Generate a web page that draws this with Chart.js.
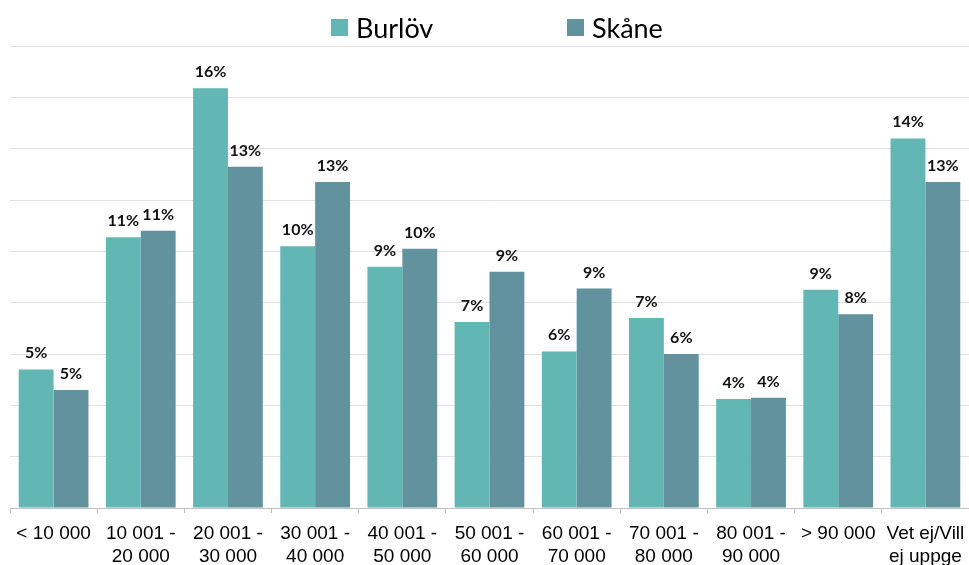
<!DOCTYPE html>
<html>
<head>
<meta charset="utf-8">
<script src="https://cdn.jsdelivr.net/npm/chart.js@4"></script>
<style>
  body { margin: 0; background: #fff; }
  #wrap { width: 969px; height: 565px; }
</style>
</head>
<body>
<div id="wrap"><canvas id="income-chart"></canvas></div>
<script>
const categories = [
  ["< 10 000"],
  ["10 001 -", "20 000"],
  ["20 001 -", "30 000"],
  ["30 001 -", "40 000"],
  ["40 001 -", "50 000"],
  ["50 001 -", "60 000"],
  ["60 001 -", "70 000"],
  ["70 001 -", "80 000"],
  ["80 001 -", "90 000"],
  ["> 90 000"],
  ["Vet ej/Vill", "ej uppge"],
];
const seriesNames = ["Burlöv", "Skåne"];
const burlovValues = [5.4, 10.55, 16.35, 10.2, 9.4, 7.25, 6.1, 7.4, 4.25, 8.5, 14.4];
const skaneValues = [4.6, 10.8, 13.3, 12.7, 10.1, 9.2, 8.55, 6.0, 4.3, 7.55, 12.7];
const yMax = 18;
const yStep = 2;

const burlovColor = "#62b6b4";
const skaneColor = "#61929d";

// Legend drawn at the top, spread out like the original
const topLegend = {
  id: "topLegend",
  afterDraw(chart) {
    const ctx = chart.ctx;
    const spots = [331, 567];
    ctx.save();
    ctx.font = "27px Lato";
    ctx.textBaseline = "alphabetic";
    ctx.textAlign = "left";
    chart.data.datasets.forEach((ds, i) => {
      const x = spots[i];
      ctx.fillStyle = ds.backgroundColor;
      ctx.fillRect(x, 19, 17, 17);
      ctx.fillStyle = "#000";
      ctx.fillText(ds.label, x + 25, 38);
    });
    ctx.restore();
  },
};

// Percent labels above bars
const barLabels = {
  id: "barLabels",
  afterDatasetsDraw(chart) {
    const ctx = chart.ctx;
    ctx.save();
    ctx.font = "bold 16px Lato";
    ctx.textAlign = "center";
    ctx.textBaseline = "alphabetic";
    ctx.fillStyle = "#111";
    chart.data.datasets.forEach((ds, i) => {
      chart.getDatasetMeta(i).data.forEach((bar, j) => {
        ctx.fillText(Math.round(ds.data[j]) + "%", bar.x, bar.y - 11);
      });
    });
    ctx.restore();
  },
};

const ctx = document.getElementById("income-chart").getContext("2d");
new Chart(ctx, {
  type: "bar",
  data: {
    labels: categories,
    datasets: [
      { label: seriesNames[0], data: burlovValues, backgroundColor: burlovColor },
      { label: seriesNames[1], data: skaneValues, backgroundColor: skaneColor },
    ],
  },
  options: {
    responsive: true,
    maintainAspectRatio: false,
    animation: false,
    layout: { padding: { top: 46, left: 10, right: 0, bottom: 0 } },
    datasets: {
      bar: { categoryPercentage: 0.8, barPercentage: 1.0 },
    },
    plugins: {
      legend: { display: false },
      tooltip: { enabled: false },
    },
    scales: {
      x: {
        // labels are allowed to run to the canvas edge, like the original
        afterFit(scale) {
          scale.height = 57;
          scale.paddingLeft = 0;
          scale.paddingRight = 0;
        },
        grid: {
          offset: true,
          drawOnChartArea: false,
          tickLength: 5,
          color: "#bfbfbf",
        },
        border: { color: "#bfbfbf" },
        ticks: {
          color: "#000",
          padding: 9,
          maxRotation: 0,
          autoSkip: false,
          font: { family: "Liberation Sans", size: 19, lineHeight: 1.23 },
        },
      },
      y: {
        min: 0,
        max: yMax,
        ticks: { display: false, stepSize: yStep },
        grid: { color: "#e0e0e0", drawTicks: false },
        border: { display: false },
      },
    },
  },
  plugins: [topLegend, barLabels],
});
</script>
</body>
</html>
